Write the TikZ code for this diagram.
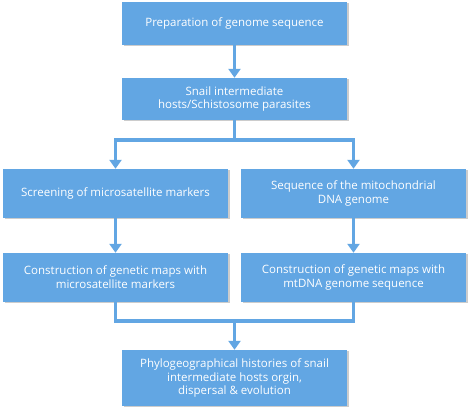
\documentclass[tikz,border=0pt]{standalone}
\usepackage{fontspec}
\setmainfont{Open Sans}
\usetikzlibrary{arrows.meta,shadows}
\definecolor{boxblue}{HTML}{62A6E3}
\begin{document}
\begin{tikzpicture}[x=1pt,y=1pt,
  box/.style={draw=none, fill=boxblue, text=white, minimum width=225pt, align=center,
    font=\fontsize{11.5}{13.8}\selectfont, inner sep=0pt,
    drop shadow={opacity=0.4, shadow xshift=1.5pt, shadow yshift=-1.5pt, fill=gray}},
  conn/.style={draw=boxblue, line width=3.5pt},
  arr/.style={conn, -{Triangle[width=12pt,length=9pt]}}]
\useasboundingbox (0,0) rectangle (472,413);
\node[box, minimum height=43pt] (a) at (234.5,389.5) {Preparation of genome sequence};
\node[box, minimum height=42pt] (b) at (234.5,314) {Snail intermediate\\hosts/Schistosome parasites};
\node[box, minimum height=49pt] (c) at (115.5,219.5) {Screening of microsatellite markers};
\node[box, minimum height=49pt] (d) at (353.5,219.5) {Sequence of the mitochondrial\\DNA genome};
\node[box, minimum height=49pt] (e) at (115.5,135.5) {Construction of genetic maps with\\microsatellite markers};
\node[box, minimum height=49pt] (f) at (353.5,135.5) {Construction of genetic maps with\\mtDNA genome sequence};
\node[box, minimum height=56pt] (g) at (234.5,35) {Phylogeographical histories of snail\\intermediate hosts orgin,\\dispersal \& evolution};
\coordinate (s) at (234.5,273);
\coordinate (m) at (234.5,92);
\draw[arr] (a) -- (b);
\draw[conn] (b.south) -- (s);
\draw[arr] (s) -| (c.north);
\draw[arr] (s) -| (d.north);
\draw[arr] (c) -- (e);
\draw[arr] (d) -- (f);
\draw[conn] (e.south) |- (m) -| (f.south);
\draw[arr] (m) -- (g.north);
\end{tikzpicture}
\end{document}
